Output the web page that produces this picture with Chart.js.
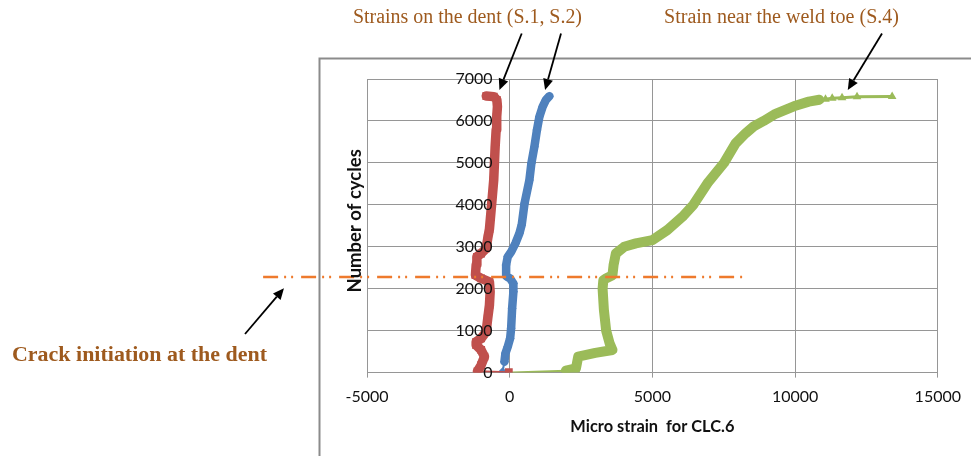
<!DOCTYPE html>
<html>
<head>
<meta charset="utf-8">
<script src="https://cdn.jsdelivr.net/npm/chart.js@4.4.1/dist/chart.umd.min.js"></script>
<style>
  html, body { margin: 0; padding: 0; background: #ffffff; }
  #wrap { width: 971px; height: 456px; }
</style>
</head>
<body>
<div id="wrap"><canvas id="c" width="971" height="456"></canvas></div>
<script>
// S.1 – strain gauge on the dent (micro strain vs. number of cycles)
const s1Strain = [-30, -1130, -1000, -885, -1000, -1175, -1175, -1000, -825, -770, -710, -685, -710, -1000, -1200, -1175, -1150, -1000, -825, -770, -710, -630, -560, -535, -510, -475, -455, -430, -450, -560, -820];
const s1Cycles = [10, 30, 180, 380, 540, 655, 735, 815, 975, 1290, 1610, 1930, 2165, 2245, 2325, 2565, 2760, 2840, 2960, 3200, 3420, 4035, 4590, 4990, 5385, 5785, 6100, 6340, 6500, 6580, 6595];

// S.2 – second gauge on the dent
const s2Strain = [-250, -185, -150, -70, 15, 50, 85, 130, 130, 15, -125, -125, -70, 50, 200, 340, 420, 520, 690, 760, 865, 955, 1040, 1155, 1270, 1390];
const s2Cycles = [20, 260, 460, 615, 815, 1055, 1530, 1930, 2125, 2245, 2300, 2565, 2760, 2880, 3080, 3320, 3520, 4035, 4590, 4990, 5385, 5785, 6100, 6340, 6500, 6590];

// S.4 – gauge near the weld toe
const s4Strain = [100, 1970, 2320, 2400, 3000, 3600, 3500, 3380, 3300, 3255, 3280, 3370, 3600, 3640, 3720, 4010, 4420, 5000, 5525, 6050, 6435, 6925, 7510, 7915, 8265, 8550, 8900, 9315, 9955, 10480, 10850, 11065, 11300, 11645, 12170, 13400];
const s4Cycles = [0, 45, 100, 380, 470, 540, 700, 1000, 1500, 2000, 2200, 2245, 2320, 2565, 2840, 3000, 3080, 3160, 3400, 3715, 4000, 4510, 5000, 5465, 5705, 5870, 6000, 6170, 6350, 6460, 6505, 6520, 6540, 6555, 6575, 6585];

// crack initiation level (cycles) and the strain span of the marker line
const crackCycles = 2280;
const crackLineStrain = [-8640, 8210];

const xTicks = [-5000, 0, 5000, 10000, 15000];
const yTicks = [0, 1000, 2000, 3000, 4000, 5000, 6000, 7000];

const xTitle = 'Micro strain  for CLC.6';
const yTitle = 'Number of cycles';
const dentNote = 'Strains on the dent (S.1, S.2)';
const weldNote = 'Strain near the weld toe (S.4)';
const crackNote = 'Crack initiation at the dent';

const RED = '#C0504D', BLUE = '#4F81BD', GREEN = '#9BBB59', ORANGE = '#EE7A2D';
const GRID = '#969696', INK = '#111111', BROWN = '#9E5A1E';
const TICK_FONT = { family: 'Lato', size: 16 };
// the cycle labels hang just left of the zero-strain line
const Y_LABEL_ANCHOR = -600;

const pts = (xs, ys) => xs.map((x, i) => ({ x, y: ys[i] }));
const fixedTicks = list => scale => { scale.ticks = list.map(v => ({ value: v })); };
const plain = v => String(v);

function fitText(ctx, text, font, color, x, y, width) {
  ctx.save();
  ctx.font = font;
  ctx.fillStyle = color;
  ctx.textAlign = 'left';
  ctx.textBaseline = 'alphabetic';
  const w = ctx.measureText(text).width;
  ctx.translate(x, y);
  ctx.scale(width / w, 1);
  ctx.fillText(text, 0, 0);
  ctx.restore();
}

function arrow(ctx, x0, y0, x1, y1) {
  const a = Math.atan2(y1 - y0, x1 - x0);
  const len = 11, half = 5;
  const bx = x1 - len * Math.cos(a), by = y1 - len * Math.sin(a);
  ctx.save();
  ctx.strokeStyle = '#000';
  ctx.fillStyle = '#000';
  ctx.lineWidth = 1.8;
  ctx.beginPath();
  ctx.moveTo(x0, y0);
  ctx.lineTo(bx, by);
  ctx.stroke();
  ctx.beginPath();
  ctx.moveTo(x1, y1);
  ctx.lineTo(bx + half * Math.sin(a), by - half * Math.cos(a));
  ctx.lineTo(bx - half * Math.sin(a), by + half * Math.cos(a));
  ctx.closePath();
  ctx.fill();
  ctx.restore();
}

const notes = {
  id: 'notes',
  beforeDraw(chart) {
    const ctx = chart.ctx;
    ctx.save();
    ctx.strokeStyle = '#8b8b8b';
    ctx.lineWidth = 2;
    ctx.beginPath();
    ctx.moveTo(319.5, 456);
    ctx.lineTo(319.5, 58.5);
    ctx.lineTo(971, 58.5);
    ctx.stroke();
    ctx.restore();
  },
  afterDraw(chart) {
    const ctx = chart.ctx;
    const { left, top, bottom } = chart.chartArea;
    const sx = chart.scales.x, sy = chart.scales.y;

    // y axis title
    ctx.save();
    ctx.font = 'bold 18.5px Lato';
    ctx.fillStyle = INK;
    ctx.textAlign = 'center';
    ctx.textBaseline = 'middle';
    ctx.translate(left - 12, (top + bottom) / 2 - 5);
    ctx.rotate(-Math.PI / 2);
    ctx.fillText(yTitle, 0, 0);
    ctx.restore();

    // annotations
    fitText(ctx, dentNote, '20px "Liberation Serif"', BROWN, 353, 23, 229);
    fitText(ctx, weldNote, '20px "Liberation Serif"', BROWN, 664, 23, 235);
    fitText(ctx, crackNote, 'bold 20px "Liberation Serif"', BROWN, 12, 360.5, 255);

    const tipY = sy.getPixelForValue(6740);
    arrow(ctx, 521.7, 33.5, sx.getPixelForValue(-360), tipY);
    arrow(ctx, 561, 33.5, sx.getPixelForValue(1240), tipY);
    arrow(ctx, 882, 33.5, sx.getPixelForValue(11845), tipY);
    arrow(ctx, 245, 334, sx.getPixelForValue(-7910), sy.getPixelForValue(2010));
  }
};

const seriesStyle = (color, style, radius, wide, thinFrom) => ({
  showLine: true,
  borderColor: color,
  backgroundColor: color,
  pointBackgroundColor: color,
  pointBorderWidth: 0,
  pointStyle: style,
  pointRadius: radius,
  borderWidth: wide,
  borderJoinStyle: 'round',
  borderCapStyle: 'round',
  tension: 0,
  segment: {
    borderWidth: ctx => {
      if (ctx.p0DataIndex === 0) return 2;
      const d = ctx.chart.data.datasets[ctx.datasetIndex].data[ctx.p0DataIndex];
      return (thinFrom !== null && d.x >= thinFrom) ? 3 : wide;
    }
  }
});

new Chart(document.getElementById('c'), {
  type: 'scatter',
  data: {
    datasets: [
      {
        label: 'Crack initiation',
        data: pts(crackLineStrain, crackLineStrain.map(() => crackCycles)),
        showLine: true,
        borderColor: ORANGE,
        borderWidth: 2.5,
        borderDash: [15, 6, 2, 5, 2, 8],
        borderCapStyle: 'butt',
        pointRadius: 0,
        clip: false,
        order: 0
      },
      Object.assign({ label: 'S.1', data: pts(s1Strain, s1Cycles), order: 1 },
        seriesStyle(RED, 'rect', 5.5, 9.5, null)),
      Object.assign({ label: 'S.2', data: pts(s2Strain, s2Cycles), order: 2 },
        seriesStyle(BLUE, 'rectRot', 4.5, 8.5, null)),
      Object.assign({ label: 'S.4', data: pts(s4Strain, s4Cycles), order: 3 },
        seriesStyle(GREEN, 'triangle', 5, 10, 10800), {
          pointRadius: c => c.dataIndex === 0 ? 0 : 5
        })
    ]
  },
  options: {
    responsive: false,
    animation: false,
    events: [],
    layout: { padding: { left: 367, right: 28, top: 79, bottom: 19.5 } },
    plugins: { legend: { display: false }, tooltip: { enabled: false }, title: { display: false } },
    scales: {
      x: {
        type: 'linear', min: -5000, max: 15000, position: 'bottom',
        afterBuildTicks: fixedTicks(xTicks),
        grid: { color: GRID, lineWidth: 1, drawTicks: true, tickLength: 5, tickColor: GRID },
        border: { color: GRID, width: 1 },
        ticks: { font: TICK_FONT, color: INK, padding: 10, maxRotation: 0, callback: plain },
        title: { display: true, text: xTitle, color: INK, font: { family: 'Lato', size: 16.4, weight: 'bold' }, padding: { top: 0, bottom: 0 } }
      },
      y: {
        type: 'linear', axis: 'y', min: 0, max: 7000, position: { x: 0 },
        afterBuildTicks: fixedTicks(yTicks),
        grid: { color: GRID, lineWidth: 1, drawTicks: false },
        border: { display: false },
        ticks: { display: false }
      },
      yLabels: {
        type: 'linear', axis: 'y', min: 0, max: 7000, position: { x: Y_LABEL_ANCHOR },
        afterBuildTicks: fixedTicks(yTicks),
        grid: { display: false, drawTicks: false },
        border: { display: false },
        ticks: { font: TICK_FONT, color: INK, padding: 0, callback: plain, z: 1 }
      }
    }
  },
  plugins: [notes]
});
</script>
